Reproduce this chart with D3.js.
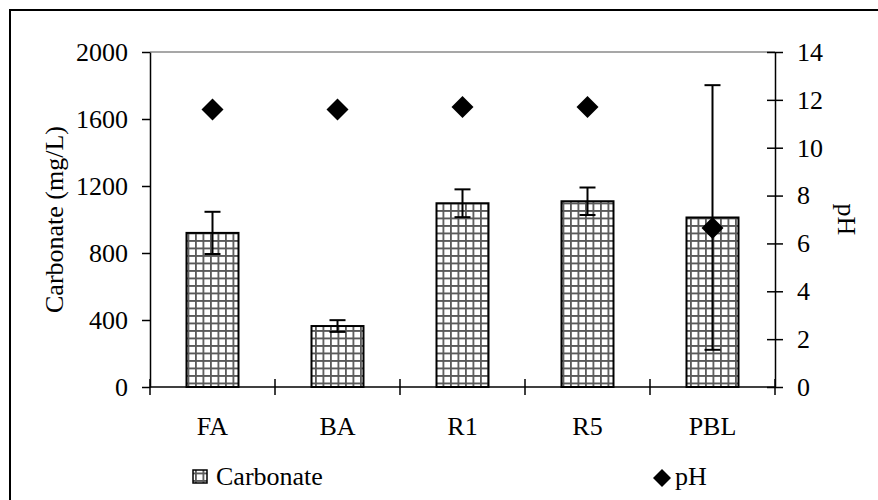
<!DOCTYPE html>
<html>
<head>
<meta charset="utf-8">
<script src="https://cdn.jsdelivr.net/npm/d3@7"></script>
<style>
  body { margin: 0; background: #fff; }
  svg text { font-family: "Liberation Serif", "Times New Roman", serif; fill: #000; }
</style>
</head>
<body>
<div id="chart"></div>
<script>
var categories = ["FA", "BA", "R1", "R5", "PBL"];
var carbonate = [920, 364, 1097, 1109, 1012];
var carbonateErr = [126, 35, 83, 82, 790];
var ph = [11.6, 11.6, 11.7, 11.7, 6.65];
var leftTicks = [0, 400, 800, 1200, 1600, 2000];
var rightTicks = [0, 2, 4, 6, 8, 10, 12, 14];

var width = 878,
    height = 500;
var plot = {left: 150, right: 775, top: 52, bottom: 387};
var fontSize = "26px";

var svg = d3.select("#chart").append("svg")
    .attr("width", width)
    .attr("height", height);

// grid pattern for bars
var pat = svg.append("defs").append("pattern")
    .attr("id", "grid")
    .attr("patternUnits", "userSpaceOnUse")
    .attr("width", 7.5)
    .attr("height", 7.5);
pat.append("rect").attr("width", 7.5).attr("height", 7.5).attr("fill", "#fff");
pat.append("path")
    .attr("d", "M0,0.9H7.5M0.9,0V7.5")
    .attr("stroke", "#5a5a5a")
    .attr("stroke-width", 1.8);

// outer frame (right and bottom edges fall outside the picture)
svg.append("rect")
    .attr("x", 10).attr("y", 10)
    .attr("width", 900).attr("height", 520)
    .attr("fill", "none")
    .attr("stroke", "#000")
    .attr("stroke-width", 2);

var x = d3.scaleBand()
    .domain(categories)
    .range([plot.left, plot.right]);

var yL = d3.scaleLinear().domain([0, 2000]).range([plot.bottom, plot.top]);
var yR = d3.scaleLinear().domain([0, 14]).range([plot.bottom, plot.top]);

// top line of plot area
svg.append("line")
    .attr("x1", plot.left).attr("x2", plot.right)
    .attr("y1", yL(2000)).attr("y2", yL(2000))
    .attr("stroke", "#8a8a8a")
    .attr("stroke-width", 1.5);

// bars
var barW = 52;
svg.selectAll("rect.bar")
    .data(categories)
    .enter().append("rect")
    .attr("class", "bar")
    .attr("x", function (d) { return x(d) + x.bandwidth() / 2 - barW / 2; })
    .attr("y", function (d, i) { return yL(carbonate[i]); })
    .attr("width", barW)
    .attr("height", function (d, i) { return yL(0) - yL(carbonate[i]); })
    .attr("fill", "url(#grid)")
    .attr("stroke", "#000")
    .attr("stroke-width", 2);

// error bars
var eb = svg.selectAll("g.err")
    .data(categories)
    .enter().append("g")
    .attr("class", "err")
    .attr("stroke", "#000")
    .attr("stroke-width", 2);
eb.append("line")
    .attr("x1", function (d) { return x(d) + x.bandwidth() / 2; })
    .attr("x2", function (d) { return x(d) + x.bandwidth() / 2; })
    .attr("y1", function (d, i) { return yL(carbonate[i] + carbonateErr[i]); })
    .attr("y2", function (d, i) { return yL(carbonate[i] - carbonateErr[i]); });
[1, -1].forEach(function (s) {
    eb.append("line")
        .attr("x1", function (d) { return x(d) + x.bandwidth() / 2 - 8; })
        .attr("x2", function (d) { return x(d) + x.bandwidth() / 2 + 8; })
        .attr("y1", function (d, i) { return yL(carbonate[i] + s * carbonateErr[i]); })
        .attr("y2", function (d, i) { return yL(carbonate[i] + s * carbonateErr[i]); });
});

// pH diamonds
var diamond = "M0,-11L11,0L0,11L-11,0Z";
svg.selectAll("path.ph")
    .data(categories)
    .enter().append("path")
    .attr("class", "ph")
    .attr("d", diamond)
    .attr("transform", function (d, i) {
        return "translate(" + (x(d) + x.bandwidth() / 2) + "," + yR(ph[i]) + ")";
    })
    .attr("fill", "#000");

// left axis
var gL = svg.append("g")
    .attr("transform", "translate(" + plot.left + ",0)")
    .call(d3.axisLeft(yL).tickValues(leftTicks).tickFormat(d3.format("d"))
        .tickSize(8).tickPadding(14).tickSizeOuter(0));

// right axis with crossing ticks
var gR = svg.append("g")
    .attr("transform", "translate(" + plot.right + ",0)")
    .call(d3.axisRight(yR).tickValues(rightTicks).tickFormat(d3.format("d"))
        .tickSize(8).tickPadding(14).tickSizeOuter(0));
gR.selectAll(".tick line").attr("x1", -8);

// bottom axis, ticks at category boundaries
var gB = svg.append("g")
    .attr("transform", "translate(0," + plot.bottom + ")");
gB.append("line")
    .attr("x1", plot.left).attr("x2", plot.right)
    .attr("stroke", "#000").attr("stroke-width", 1.5);
gB.selectAll("line.tk")
    .data(categories.concat(["end"]))
    .enter().append("line")
    .attr("class", "tk")
    .attr("x1", function (d, i) { return plot.left + i * x.bandwidth(); })
    .attr("x2", function (d, i) { return plot.left + i * x.bandwidth(); })
    .attr("y1", -8).attr("y2", 8)
    .attr("stroke", "#000").attr("stroke-width", 1.5);
gB.selectAll("text")
    .data(categories)
    .enter().append("text")
    .attr("x", function (d) { return x(d) + x.bandwidth() / 2; })
    .attr("y", 48)
    .attr("text-anchor", "middle")
    .style("font-size", fontSize)
    .text(function (d) { return d; });

[gL, gR].forEach(function (g) {
    g.selectAll("path.domain").attr("stroke", "#000").attr("stroke-width", 1.5);
    g.selectAll(".tick line").attr("stroke", "#000").attr("stroke-width", 1.5);
    g.selectAll(".tick text")
        .style("font-size", fontSize)
        .style("font-family", "'Liberation Serif', serif")
        .attr("fill", "#000");
});

// axis titles
svg.append("text")
    .attr("transform", "translate(63," + ((plot.top + plot.bottom) / 2) + ") rotate(-90)")
    .attr("text-anchor", "middle")
    .style("font-size", fontSize)
    .text("Carbonate (mg/L)");
svg.append("text")
    .attr("transform", "translate(838," + ((plot.top + plot.bottom) / 2) + ") rotate(90)")
    .attr("text-anchor", "middle")
    .style("font-size", fontSize)
    .text("pH");

// legend
svg.append("rect")
    .attr("x", 193).attr("y", 470)
    .attr("width", 14).attr("height", 13)
    .attr("fill", "url(#grid)")
    .attr("stroke", "#000")
    .attr("stroke-width", 1.5);
svg.append("text")
    .attr("x", 216).attr("y", 485)
    .style("font-size", fontSize)
    .text("Carbonate");
svg.append("path")
    .attr("d", "M0,-9L9,0L0,9L-9,0Z")
    .attr("transform", "translate(662,478)")
    .attr("fill", "#000");
svg.append("text")
    .attr("x", 675).attr("y", 485)
    .style("font-size", fontSize)
    .text("pH");
</script>
</body>
</html>
